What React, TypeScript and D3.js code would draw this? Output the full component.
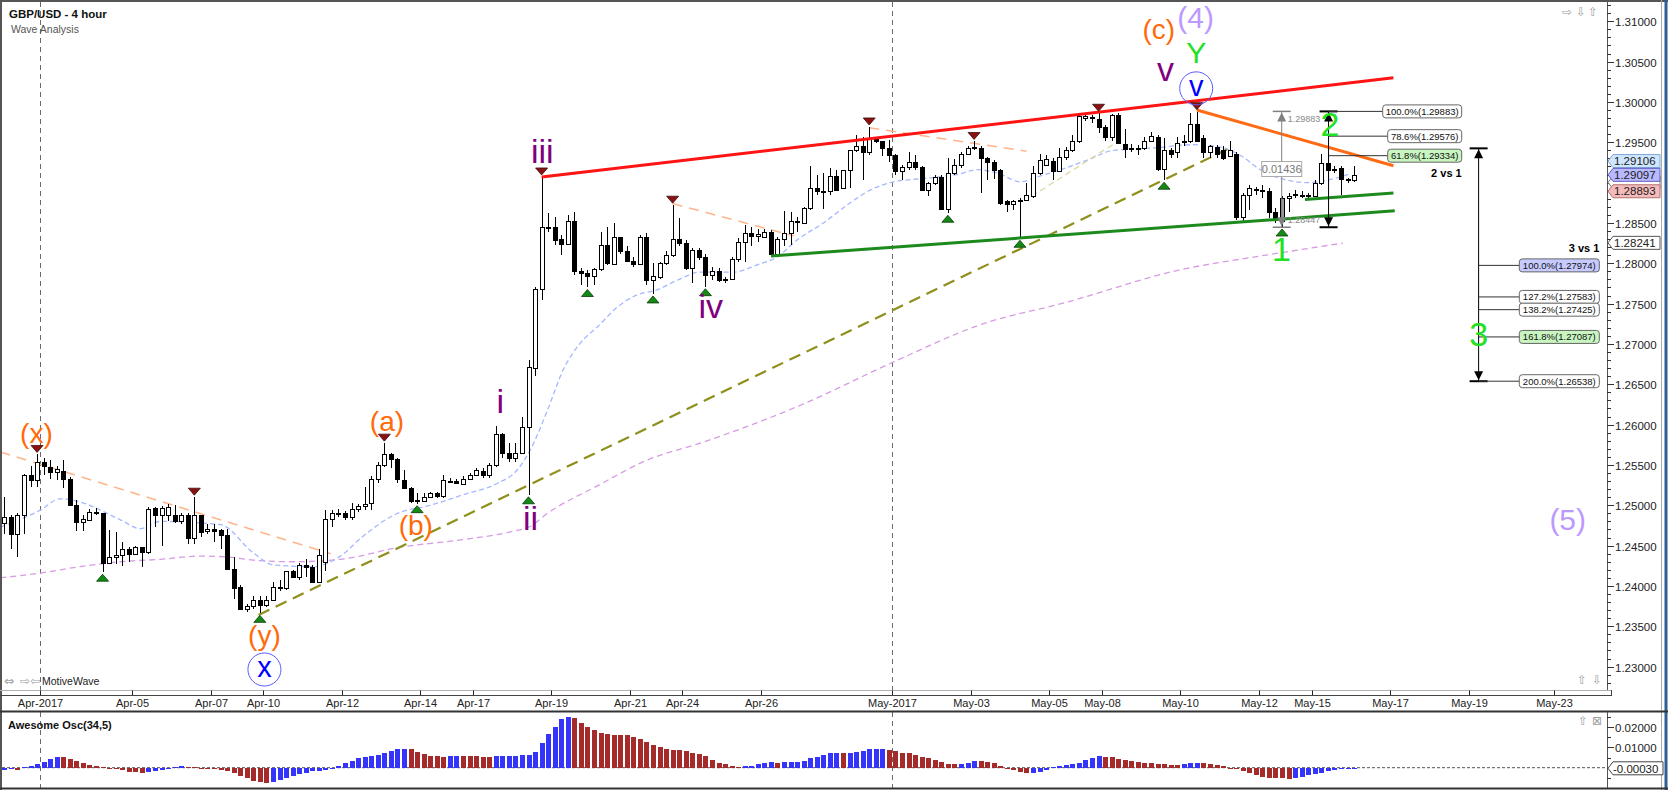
import React from "react";
import * as d3 from "d3";

// ---------------- DATA ----------------
const opens = [
  1.2478, 1.2486, 1.2465, 1.2488, 1.2537, 1.2531, 1.2554, 1.2548, 1.2541, 1.2543,
  1.2532, 1.2500, 1.2479, 1.2482, 1.2492, 1.2490, 1.2428, 1.2436, 1.2438, 1.2446,
  1.2440, 1.2448, 1.2442, 1.2497, 1.2488, 1.2488, 1.2488, 1.2481, 1.2488, 1.2459,
  1.2488, 1.2468, 1.2470, 1.2469, 1.2463, 1.2421, 1.2399, 1.2372, 1.2375, 1.2383,
  1.2376, 1.2383, 1.2399, 1.2397, 1.2419, 1.2411, 1.2426, 1.2424, 1.2405, 1.2430,
  1.2483, 1.2491, 1.2491, 1.2486, 1.2496, 1.2499, 1.2503, 1.2532, 1.2550, 1.2564,
  1.2557, 1.2531, 1.2522, 1.2506, 1.2505, 1.2510, 1.2515, 1.2511, 1.2529, 1.2530,
  1.2526, 1.2532, 1.2538, 1.2543, 1.2538, 1.2550, 1.2588, 1.2565, 1.2558, 1.2565,
  1.2597, 1.2670, 1.2768, 1.2844, 1.2845, 1.2830, 1.2824, 1.2853, 1.2790, 1.2788,
  1.2784, 1.2793, 1.2823, 1.2799, 1.2832, 1.2815, 1.2803, 1.2799, 1.2833, 1.2779,
  1.2783, 1.2800, 1.2810, 1.2830, 1.2825, 1.2794, 1.2817, 1.2808, 1.2786, 1.2791,
  1.2779, 1.2780, 1.2805, 1.2826, 1.2838, 1.2834, 1.2833, 1.2839, 1.2812, 1.2830,
  1.2838, 1.2851, 1.2850, 1.2868, 1.2893, 1.2889, 1.2889, 1.2908, 1.2893, 1.2916,
  1.2940, 1.2945, 1.2938, 1.2954, 1.2951, 1.2943, 1.2934, 1.2915, 1.2919, 1.2925,
  1.2919, 1.2891, 1.2899, 1.2907, 1.2867, 1.2912, 1.2922, 1.2936, 1.2943, 1.2943,
  1.2931, 1.2926, 1.2916, 1.2877, 1.2874, 1.2877, 1.2878, 1.2884, 1.2912, 1.2922,
  1.2927, 1.2915, 1.2932, 1.2941, 1.2951, 1.2980, 1.2981, 1.2979, 1.2969, 1.2957,
  1.2984, 1.2948, 1.2943, 1.2942, 1.2943, 1.2952, 1.2957, 1.2917, 1.2940, 1.2938,
  1.2950, 1.2951, 1.2973, 1.2955, 1.2938, 1.2944, 1.2941, 1.2933, 1.2936, 1.2858,
  1.2885, 1.2892, 1.2891, 1.2889, 1.2864, 1.2852, 1.2881, 1.2885, 1.2885, 1.2884,
  1.2884, 1.2900, 1.2924, 1.2916, 1.2918, 1.2903, 1.2903,
];
const highs = [
  1.2510, 1.2488, 1.2490, 1.2539, 1.2549, 1.2563, 1.2558, 1.2556, 1.2549, 1.2556,
  1.2535, 1.2506, 1.2488, 1.2496, 1.2497, 1.2491, 1.2469, 1.2467, 1.2454, 1.2448,
  1.2450, 1.2448, 1.2498, 1.2498, 1.2499, 1.2501, 1.2500, 1.2490, 1.2490, 1.2510,
  1.2488, 1.2477, 1.2477, 1.2471, 1.2471, 1.2436, 1.2401, 1.2377, 1.2388, 1.2388,
  1.2387, 1.2405, 1.2407, 1.2419, 1.2420, 1.2428, 1.2434, 1.2426, 1.2446, 1.2494,
  1.2494, 1.2496, 1.2493, 1.2503, 1.2502, 1.2523, 1.2536, 1.2554, 1.2577, 1.2565,
  1.2558, 1.2544, 1.2523, 1.2515, 1.2515, 1.2517, 1.2517, 1.2538, 1.2534, 1.2532,
  1.2536, 1.2540, 1.2546, 1.2546, 1.2552, 1.2598, 1.2589, 1.2577, 1.2577, 1.2610,
  1.2680, 1.2771, 1.2907, 1.2862, 1.2858, 1.2835, 1.2860, 1.2864, 1.2794, 1.2792,
  1.2794, 1.2839, 1.2845, 1.2850, 1.2833, 1.2821, 1.2808, 1.2835, 1.2837, 1.2800,
  1.2802, 1.2815, 1.2872, 1.2856, 1.2829, 1.2819, 1.2819, 1.2812, 1.2796, 1.2794,
  1.2783, 1.2808, 1.2831, 1.2847, 1.2845, 1.2843, 1.2842, 1.2841, 1.2832, 1.2865,
  1.2863, 1.2858, 1.2870, 1.2921, 1.2909, 1.2912, 1.2918, 1.2916, 1.2916, 1.2941,
  1.2959, 1.2957, 1.2969, 1.2955, 1.2952, 1.2953, 1.2936, 1.2922, 1.2938, 1.2934,
  1.2920, 1.2901, 1.2909, 1.2909, 1.2930, 1.2929, 1.2938, 1.2945, 1.2951, 1.2945,
  1.2932, 1.2928, 1.2917, 1.2879, 1.2879, 1.2881, 1.2899, 1.2920, 1.2936, 1.2934,
  1.2930, 1.2943, 1.2944, 1.2959, 1.2986, 1.2986, 1.2984, 1.2986, 1.2971, 1.2985,
  1.2986, 1.2967, 1.2948, 1.2947, 1.2957, 1.2963, 1.2959, 1.2955, 1.2943, 1.2957,
  1.2959, 1.2986, 1.2988, 1.2959, 1.2947, 1.2947, 1.2945, 1.2951, 1.2938, 1.2887,
  1.2897, 1.2895, 1.2897, 1.2893, 1.2868, 1.2883, 1.2887, 1.2891, 1.2889, 1.2887,
  1.2903, 1.2936, 1.2936, 1.2920, 1.2920, 1.2906, 1.2920,
];
const lows = [
  1.2465, 1.2446, 1.2436, 1.2465, 1.2523, 1.2523, 1.2538, 1.2532, 1.2531, 1.2522,
  1.2499, 1.2468, 1.2468, 1.2481, 1.2488, 1.2417, 1.2427, 1.2427, 1.2425, 1.2430,
  1.2440, 1.2424, 1.2439, 1.2473, 1.2450, 1.2481, 1.2478, 1.2477, 1.2452, 1.2452,
  1.2461, 1.2465, 1.2455, 1.2446, 1.2421, 1.2384, 1.2372, 1.2368, 1.2372, 1.2366,
  1.2374, 1.2382, 1.2394, 1.2395, 1.2411, 1.2407, 1.2411, 1.2404, 1.2404, 1.2419,
  1.2473, 1.2486, 1.2482, 1.2482, 1.2492, 1.2494, 1.2494, 1.2527, 1.2548, 1.2546,
  1.2527, 1.2521, 1.2503, 1.2502, 1.2504, 1.2509, 1.2509, 1.2509, 1.2527, 1.2526,
  1.2525, 1.2531, 1.2536, 1.2534, 1.2534, 1.2548, 1.2558, 1.2554, 1.2554, 1.2563,
  1.2513, 1.2660, 1.2754, 1.2839, 1.2823, 1.2810, 1.2823, 1.2786, 1.2773, 1.2770,
  1.2773, 1.2790, 1.2798, 1.2798, 1.2812, 1.2802, 1.2796, 1.2798, 1.2773, 1.2762,
  1.2781, 1.2798, 1.2808, 1.2821, 1.2792, 1.2775, 1.2804, 1.2771, 1.2779, 1.2777,
  1.2776, 1.2779, 1.2802, 1.2802, 1.2821, 1.2827, 1.2831, 1.2810, 1.2808, 1.2821,
  1.2823, 1.2839, 1.2850, 1.2866, 1.2885, 1.2867, 1.2885, 1.2889, 1.2892, 1.2893,
  1.2938, 1.2903, 1.2934, 1.2949, 1.2933, 1.2926, 1.2909, 1.2903, 1.2916, 1.2916,
  1.2889, 1.2883, 1.2897, 1.2866, 1.2862, 1.2909, 1.2918, 1.2934, 1.2941, 1.2887,
  1.2903, 1.2904, 1.2872, 1.2864, 1.2866, 1.2831, 1.2877, 1.2881, 1.2910, 1.2920,
  1.2903, 1.2914, 1.2928, 1.2938, 1.2949, 1.2976, 1.2974, 1.2961, 1.2952, 1.2951,
  1.2948, 1.2931, 1.2938, 1.2934, 1.2941, 1.2951, 1.2914, 1.2903, 1.2931, 1.2931,
  1.2945, 1.2949, 1.2950, 1.2930, 1.2931, 1.2930, 1.2928, 1.2932, 1.2854, 1.2852,
  1.2866, 1.2885, 1.2881, 1.2856, 1.2850, 1.2845, 1.2864, 1.2881, 1.2881, 1.2879,
  1.2883, 1.2897, 1.2901, 1.2912, 1.2885, 1.2900, 1.2901,
];
const closes = [
  1.2486, 1.2465, 1.2488, 1.2537, 1.2531, 1.2554, 1.2549, 1.2541, 1.2545, 1.2532,
  1.2500, 1.2479, 1.2483, 1.2492, 1.2490, 1.2428, 1.2436, 1.2438, 1.2446, 1.2440,
  1.2448, 1.2442, 1.2496, 1.2488, 1.2497, 1.2498, 1.2481, 1.2488, 1.2459, 1.2488,
  1.2467, 1.2471, 1.2468, 1.2463, 1.2421, 1.2397, 1.2372, 1.2375, 1.2383, 1.2376,
  1.2383, 1.2399, 1.2397, 1.2419, 1.2411, 1.2426, 1.2424, 1.2405, 1.2438, 1.2483,
  1.2490, 1.2489, 1.2486, 1.2496, 1.2499, 1.2502, 1.2532, 1.2550, 1.2564, 1.2557,
  1.2532, 1.2522, 1.2505, 1.2507, 1.2510, 1.2515, 1.2511, 1.2531, 1.2530, 1.2527,
  1.2532, 1.2538, 1.2544, 1.2538, 1.2550, 1.2588, 1.2565, 1.2558, 1.2565, 1.2597,
  1.2671, 1.2768, 1.2845, 1.2845, 1.2829, 1.2824, 1.2853, 1.2790, 1.2788, 1.2784,
  1.2793, 1.2823, 1.2800, 1.2832, 1.2815, 1.2803, 1.2799, 1.2833, 1.2779, 1.2784,
  1.2800, 1.2810, 1.2830, 1.2825, 1.2794, 1.2816, 1.2808, 1.2786, 1.2791, 1.2779,
  1.2781, 1.2805, 1.2826, 1.2837, 1.2834, 1.2836, 1.2839, 1.2812, 1.2830, 1.2838,
  1.2852, 1.2852, 1.2868, 1.2893, 1.2889, 1.2889, 1.2908, 1.2891, 1.2916, 1.2940,
  1.2945, 1.2938, 1.2954, 1.2951, 1.2943, 1.2934, 1.2915, 1.2919, 1.2925, 1.2919,
  1.2891, 1.2899, 1.2907, 1.2867, 1.2912, 1.2922, 1.2936, 1.2943, 1.2944, 1.2930,
  1.2926, 1.2916, 1.2875, 1.2874, 1.2877, 1.2878, 1.2885, 1.2912, 1.2928, 1.2929,
  1.2915, 1.2932, 1.2941, 1.2951, 1.2982, 1.2983, 1.2981, 1.2969, 1.2957, 1.2984,
  1.2949, 1.2942, 1.2943, 1.2943, 1.2952, 1.2958, 1.2917, 1.2940, 1.2936, 1.2949,
  1.2951, 1.2973, 1.2951, 1.2938, 1.2945, 1.2936, 1.2930, 1.2941, 1.2858, 1.2885,
  1.2893, 1.2892, 1.2891, 1.2864, 1.2856, 1.2881, 1.2884, 1.2886, 1.2885, 1.2885,
  1.2900, 1.2924, 1.2916, 1.2917, 1.2905, 1.2904, 1.2910,
];

// Awesome Oscillator (34,5) per bar
const aoValues = [
  -0.0013, -0.0008, -0.0010, 0.0003, 0.0010, 0.0018, 0.0030, 0.0044, 0.0054, 0.0053,
  0.0044, 0.0034, 0.0021, 0.0015, 0.0010, 0.0002, -0.0005, -0.0008, -0.0011, -0.0020,
  -0.0023, -0.0025, -0.0021, -0.0015, -0.0010, -0.0005, 0.0005, 0.0008, 0.0005, 0.0002,
  0.0000, -0.0005, -0.0007, -0.0010, -0.0016, -0.0028, -0.0041, -0.0053, -0.0064, -0.0072,
  -0.0077, -0.0072, -0.0061, -0.0049, -0.0039, -0.0030, -0.0025, -0.0018, -0.0015, -0.0011,
  -0.0007, 0.0008, 0.0021, 0.0034, 0.0046, 0.0053, 0.0057, 0.0062, 0.0071, 0.0084,
  0.0090, 0.0094, 0.0093, 0.0076, 0.0066, 0.0057, 0.0056, 0.0055, 0.0057, 0.0059,
  0.0058, 0.0057, 0.0056, 0.0055, 0.0051, 0.0056, 0.0057, 0.0058, 0.0059, 0.0061,
  0.0062, 0.0079, 0.0120, 0.0166, 0.0202, 0.0238, 0.0251, 0.0243, 0.0222, 0.0202,
  0.0186, 0.0169, 0.0166, 0.0161, 0.0160, 0.0159, 0.0149, 0.0140, 0.0128, 0.0110,
  0.0100, 0.0090, 0.0087, 0.0086, 0.0082, 0.0074, 0.0067, 0.0057, 0.0038, 0.0025,
  0.0016, 0.0010, 0.0005, 0.0008, 0.0010, 0.0016, 0.0021, 0.0026, 0.0025, 0.0026,
  0.0027, 0.0028, 0.0033, 0.0046, 0.0051, 0.0061, 0.0071, 0.0074, 0.0073, 0.0074,
  0.0077, 0.0084, 0.0090, 0.0092, 0.0093, 0.0087, 0.0082, 0.0074, 0.0071, 0.0062,
  0.0054, 0.0046, 0.0038, 0.0030, 0.0018, 0.0017, 0.0020, 0.0025, 0.0033, 0.0032,
  0.0030, 0.0025, 0.0010, 0.0000, -0.0011, -0.0020, -0.0028, -0.0027, -0.0020, -0.0011,
  0.0003, 0.0008, 0.0011, 0.0016, 0.0025, 0.0038, 0.0046, 0.0056, 0.0055, 0.0051,
  0.0043, 0.0038, 0.0033, 0.0026, 0.0025, 0.0021, 0.0018, 0.0016, 0.0015, 0.0014,
  0.0018, 0.0021, 0.0022, 0.0021, 0.0018, 0.0013, 0.0008, 0.0000, -0.0007, -0.0016,
  -0.0028, -0.0036, -0.0044, -0.0049, -0.0052, -0.0053, -0.0054, -0.0052, -0.0046, -0.0038,
  -0.0032, -0.0026, -0.0018, -0.0011, -0.0006, -0.0004, -0.0003,
];

// moving averages (bar index, price)
const blueMaBar = [-0.6, 5.5, 8.5, 11.6, 17.7, 20.8, 23.8, 33.0, 38.0, 41.1, 47.2, 51.3, 54.8, 60.0, 65.0, 70.0, 75.2, 78.3, 80.3, 82.9, 85.3, 87.9, 90.5, 93.6, 96.6, 99.6, 102.7, 106.2, 111.3, 114.9, 118.0, 121.0, 125.0, 129.1, 132.2, 135.2, 141.3, 145.4, 148.5, 151.5, 155.1, 157.6, 161.2, 165.3, 169.3, 175.4, 181.5, 185.6, 188.6, 191.7, 195.8, 198.9, 201.9, 205.4];
const blueMaPrice = [1.2473, 1.2494, 1.2508, 1.2504, 1.2482, 1.2471, 1.2480, 1.2476, 1.2441, 1.2426, 1.2424, 1.2437, 1.2462, 1.2490, 1.2500, 1.2513, 1.2527, 1.2544, 1.2569, 1.2618, 1.2668, 1.2701, 1.2721, 1.2746, 1.2761, 1.2767, 1.2779, 1.2789, 1.2789, 1.2798, 1.2808, 1.2829, 1.2850, 1.2875, 1.2891, 1.2900, 1.2906, 1.2910, 1.2916, 1.2912, 1.2901, 1.2907, 1.2916, 1.2928, 1.2940, 1.2943, 1.2947, 1.2944, 1.2934, 1.2916, 1.2903, 1.2900, 1.2903, 1.2911];
const purpleMaBar = [-0.6, 5.5, 11.6, 17.7, 23.8, 29.9, 34.0, 38.0, 44.1, 51.3, 60.4, 69.6, 77.2, 80.3, 82.9, 90.5, 98.1, 106.2, 121.5, 135.8, 149.0, 161.8, 179.5, 191.7, 204.3];
const purpleMaPrice = [1.2410, 1.2416, 1.2424, 1.2430, 1.2433, 1.2437, 1.2436, 1.2432, 1.2430, 1.2433, 1.2448, 1.2457, 1.2467, 1.2474, 1.2490, 1.2524, 1.2556, 1.2577, 1.2624, 1.2678, 1.2724, 1.2751, 1.2792, 1.2809, 1.2825];

// trend lines (bar index, price)
const resistanceLine = [[82, 1.2907], [212, 1.303]];
const wave2Line = [[182, 1.299], [212, 1.2921]];
const supportLine = [[117, 1.2809], [212.2, 1.2865]];
const channelLine = [[198.5, 1.2879], [212, 1.2887]];
const oliveLine = [[38.8, 1.2364], [186.6, 1.2941]];
const khakiLine = [[156.8, 1.2883], [170.3, 1.2953]];
const peachLines = [
  [[-0.6, 1.2566], [49.8, 1.244]],
  [[102, 1.2874], [120.5, 1.2834]],
  [[132, 1.2968], [156, 1.2939]],
];

// swing markers
const swingHighBars = [5, 29, 58, 82, 102, 132, 148, 167, 182];
const swingLowBars = [15, 39, 63, 80, 89, 99, 107, 144, 155, 177, 195];

// wave labels
const waveText = ["(x)", "(y)", "(a)", "(b)", "i", "ii", "iii", "iv", "v", "(c)", "(4)", "Y", "1", "2", "3", "(5)"];
const waveBar = [4.9, 39.7, 58.4, 62.8, 75.7, 80.3, 82.1, 107.8, 177.2, 176.2, 181.8, 181.9, 194.9, 202.3, 225, 238.6];
const wavePrice = [1.25859, 1.23354, 1.26007, 1.24724, 1.26299, 1.24848, 1.29392, 1.2747, 1.30368, 1.3087, 1.31016, 1.30613, 1.28177, 1.29727, 1.27123, 1.24796];
const waveKind = ["o", "o", "o", "o", "p", "p", "p", "p", "p", "o", "l", "g", "g", "g", "g", "l"];
const circleText = ["x", "v"];
const circleBar = [39.7, 181.9];
const circlePrice = [1.22964, 1.30169];

// axes
const dateTickLabels = ["Apr-2017", "Apr-05", "Apr-07", "Apr-10", "Apr-12", "Apr-14", "Apr-17", "Apr-19", "Apr-21", "Apr-24", "Apr-26", "May-2017", "May-03", "May-05", "May-08", "May-10", "May-12", "May-15", "May-17", "May-19", "May-23"];
const dateTickBar = [5.5, 19.5, 31.5, 39.5, 51.5, 63.5, 71.5, 83.5, 95.5, 103.5, 115.5, 135.5, 147.5, 159.5, 167.5, 179.5, 191.5, 199.5, 211.5, 223.5, 236.5];
const monthStartBar = [5.5, 135.5];
const priceTickLabels = ["1.31000", "1.30500", "1.30000", "1.29500", "1.29000", "1.28500", "1.28000", "1.27500", "1.27000", "1.26500", "1.26000", "1.25500", "1.25000", "1.24500", "1.24000", "1.23500", "1.23000"];
const aoTickLabels = ["0.02000", "0.01000"];

// price axis callouts (last values of the plotted series)
const calloutValues = [1.29106, 1.28966, 1.28893, 1.29097, 1.28241];
const aoCallout = -0.0003;

// fibonacci tools
const measureFrom = 1.28447;
const measureTo = 1.29883;
const measureText = "0.01436";
const retraceLabels = ["100.0%", "78.6%", "61.8%"];
const retraceValues = [1.29883, 1.29576, 1.29334];
const extTop = 1.29425;
const extLabels = ["100.0%", "127.2%", "138.2%", "161.8%", "200.0%"];
const extValues = [1.27974, 1.27583, 1.27425, 1.27087, 1.26538];

// ---------------- CHART ----------------
const FONT = "'Liberation Sans', Arial, Helvetica, sans-serif";
const W = 1668;
const H = 790;
const PLOT_L = 2;
const PLOT_R = 1607;
const PLOT_T = 2;
const PLOT_B = 690;
const AO_T = 712;
const AO_B = 788;

const kindStyle: Record<string, { fill: string; size: number }> = {
  o: { fill: "#ff6a0a", size: 28 },
  p: { fill: "#800080", size: 34 },
  l: { fill: "#bb99ff", size: 30 },
  g: { fill: "#22e022", size: 34 },
};

export default function App() {
  const x = d3.scaleLinear().domain([0, 206]).range([4.3, 4.3 + 206 * 6.5525]);
  const y = d3.scaleLinear().domain([1.31, 1.23]).range([21.3, 666.6]);
  const ao = d3.scaleLinear().domain([0, 0.02]).range([767.7, 727.1]);

  const line = d3
    .line<number[]>()
    .x((d) => x(d[0]))
    .y((d) => y(d[1]));
  const curve = d3
    .line<number[]>()
    .x((d) => x(d[0]))
    .y((d) => y(d[1]))
    .curve(d3.curveMonotoneX);

  const bluePts = blueMaBar.map((b, i) => [b, blueMaPrice[i]]);
  const purplePts = purpleMaBar.map((b, i) => [b, purpleMaPrice[i]]);

  const minorPrice = d3.range(1.225, 1.3135, 0.001);
  const px = (v: number) => Math.round(v) + 0.5;

  const gx = x(194.95);
  const fx = x(202.1);
  const ex = x(225);

  const arrowUp = (cx: number, tipY: number) =>
    `M${cx},${tipY} L${cx - 4.5},${tipY + 9} L${cx + 4.5},${tipY + 9} Z`;
  const arrowDown = (cx: number, tipY: number) =>
    `M${cx},${tipY} L${cx - 4.5},${tipY - 9} L${cx + 4.5},${tipY - 9} Z`;

  const callout = (yc: number, x0: number, x1: number) =>
    `M${x0},${yc} L${x0 + 5},${yc - 6.5} L${x1},${yc - 6.5} L${x1},${yc + 6.5} L${x0 + 5},${yc + 6.5} Z`;

  const calloutStyle = [
    { fill: "#cfe6ff", stroke: "#7fa6d6", shift: -13, label: true },
    { fill: "#ffffff", stroke: "#777", shift: -3, label: false },
    { fill: "#f5baba", stroke: "#b07070", shift: 0, label: true },
    { fill: "#b9b9ff", stroke: "#5a5ac0", shift: 0, label: true },
    { fill: "#ffffff", stroke: "#555", shift: -1, label: true },
  ];
  const calloutYs = calloutValues.map((v, i) => y(v) + calloutStyle[i].shift);

  return (
    <svg
      width={W}
      height={H}
      viewBox={`0 0 ${W} ${H}`}
      style={{ position: "absolute", left: 0, top: 0, background: "#fff" }}
      fontFamily={FONT}
    >
      <defs>
        <clipPath id="plotClip">
          <rect x={PLOT_L} y={PLOT_T} width={PLOT_R - PLOT_L} height={PLOT_B - PLOT_T} />
        </clipPath>
        <clipPath id="aoClip">
          <rect x={PLOT_L} y={AO_T} width={PLOT_R - PLOT_L} height={AO_B - AO_T} />
        </clipPath>
      </defs>
      <rect x={0} y={0} width={W} height={H} fill="#fff" />

      {/* month separators */}
      {monthStartBar.map((b, i) => (
        <g key={"ms" + i}>
          <line x1={px(x(b))} x2={px(x(b))} y1={PLOT_T} y2={PLOT_B} stroke="#6a6a6a" strokeDasharray="5,4" />
          <line x1={px(x(b))} x2={px(x(b))} y1={AO_T} y2={AO_B} stroke="#6a6a6a" strokeDasharray="5,4" />
        </g>
      ))}

      <g clipPath="url(#plotClip)">
        {/* moving averages */}
        <path d={curve(purplePts) || ""} fill="none" stroke="#d79be3" strokeWidth={1.3} strokeDasharray="6,4" />
        <path d={curve(bluePts) || ""} fill="none" stroke="#a6b8ff" strokeWidth={1.3} strokeDasharray="5,3" />

        {/* peach dashed lines */}
        {peachLines.map((l, i) => (
          <path key={"pl" + i} d={line(l) || ""} fill="none" stroke="#ffb48c" strokeWidth={1.5} strokeDasharray="10,7" />
        ))}
        <path d={line(khakiLine) || ""} fill="none" stroke="#d8d49a" strokeWidth={1.2} strokeDasharray="6,4" />
        <path d={line(oliveLine) || ""} fill="none" stroke="#8f8f1c" strokeWidth={2.2} strokeDasharray="12,7" />

        {/* candles */}
        <g shapeRendering="crispEdges">
          {opens.map((o, i) => {
            const c = closes[i];
            const cx = px(x(i));
            const top = Math.round(y(Math.max(o, c)));
            const bot = Math.round(y(Math.min(o, c)));
            const bull = c >= o;
            const fill = i === 195 ? "#9a9a9a" : bull ? "#fff" : "#000";
            return (
              <g key={"c" + i}>
                <line x1={cx} x2={cx} y1={y(highs[i])} y2={y(lows[i])} stroke="#000" strokeWidth={1} />
                <rect x={cx - 2} y={top + 0.5} width={4} height={Math.max(1, bot - top)} fill={fill} stroke="#000" strokeWidth={1} />
              </g>
            );
          })}
        </g>

        {/* trend lines */}
        <path d={line(resistanceLine) || ""} stroke="#ff1414" strokeWidth={3} fill="none" />
        <path d={line(wave2Line) || ""} stroke="#ff6a14" strokeWidth={3} fill="none" />
        <path d={line(supportLine) || ""} stroke="#1d8a1d" strokeWidth={3} fill="none" />
        <path d={line(channelLine) || ""} stroke="#1d8a1d" strokeWidth={3} fill="none" />

        {/* swing markers */}
        {swingHighBars.map((b) => {
          const cx = x(b);
          const t = y(highs[b]) - 2;
          return (
            <path key={"sh" + b} d={`M${cx},${t} L${cx - 6},${t - 7} L${cx + 6},${t - 7} Z`} fill="#8b1010" stroke="#3a1010" strokeWidth={0.8} />
          );
        })}
        {swingLowBars.map((b) => {
          const cx = x(b);
          const t = y(lows[b]) + 2;
          return (
            <path key={"sl" + b} d={`M${cx},${t} L${cx - 6},${t + 7} L${cx + 6},${t + 7} Z`} fill="#138a13" stroke="#0a3a0a" strokeWidth={0.8} />
          );
        })}

        {/* measure tool (gray) */}
        <g>
          <line x1={gx} x2={gx} y1={y(measureTo)} y2={y(measureFrom)} stroke="#808080" strokeWidth={1} />
          <line x1={gx - 9} x2={gx + 9} y1={y(measureTo)} y2={y(measureTo)} stroke="#808080" strokeWidth={1.5} />
          <line x1={gx - 9} x2={gx + 9} y1={y(measureFrom)} y2={y(measureFrom)} stroke="#808080" strokeWidth={1.5} />
          <path d={arrowUp(gx, y(measureTo) + 1)} fill="#808080" />
          <path d={arrowDown(gx, y(measureFrom) - 1)} fill="#808080" />
          <text x={gx + 6} y={y(measureTo) + 11} fontSize={9} fill="#8a8a8a">{measureTo.toFixed(5)}</text>
          <text x={gx + 6} y={y(measureFrom) - 4} fontSize={9} fill="#8a8a8a">{measureFrom.toFixed(5)}</text>
          <rect x={gx - 20} y={161.5} width={40} height={15} fill="#fff" stroke="#aaa" />
          <text x={gx} y={173} fontSize={11} fill="#777" textAnchor="middle">{measureText}</text>
        </g>

        {/* retracement tool "2 vs 1" */}
        <g>
          <line x1={fx} x2={fx} y1={y(measureTo)} y2={y(measureFrom)} stroke="#000" strokeWidth={1} />
          <line x1={fx - 9} x2={fx + 9} y1={y(measureTo)} y2={y(measureTo)} stroke="#000" strokeWidth={2} />
          <line x1={fx - 9} x2={fx + 9} y1={y(measureFrom)} y2={y(measureFrom)} stroke="#000" strokeWidth={2} />
          <path d={arrowUp(fx, y(measureTo) + 1)} fill="#000" />
          <path d={arrowDown(fx, y(measureFrom) - 1)} fill="#000" />
          {retraceValues.map((v, i) => {
            const left = i === 0 ? 1382.7 : 1387.7;
            const yy = y(v);
            const fill = i === 2 ? "#c8f5c0" : "#fff";
            return (
              <g key={"rt" + i}>
                <line x1={fx} x2={left} y1={yy} y2={yy} stroke="#333" strokeWidth={1} />
                <rect x={left} y={yy - 6.5} width={1461.7 - left} height={13} rx={3} fill={fill} stroke="#666" />
                <text x={(left + 1461.7) / 2} y={yy + 3.5} fontSize={9.5} textAnchor="middle" fill="#111">
                  {`${retraceLabels[i]}(${v.toFixed(5)})`}
                </text>
              </g>
            );
          })}
          <text x={1461.7} y={176.5} fontSize={11} fontWeight="bold" textAnchor="end" fill="#000">2 vs 1</text>
        </g>

        {/* extension tool "3 vs 1" */}
        <g>
          <line x1={ex} x2={ex} y1={y(extTop)} y2={y(extValues[4])} stroke="#000" strokeWidth={1} />
          <line x1={ex - 9} x2={ex + 9} y1={y(extTop)} y2={y(extTop)} stroke="#000" strokeWidth={2} />
          <line x1={ex - 9} x2={ex + 9} y1={y(extValues[4])} y2={y(extValues[4])} stroke="#000" strokeWidth={2} />
          <path d={arrowUp(ex, y(extTop) + 1)} fill="#000" />
          <path d={arrowDown(ex, y(extValues[4]) - 1)} fill="#000" />
          {extValues.map((v, i) => {
            const yy = y(v);
            const fill = i === 0 ? "#c6caff" : i === 3 ? "#c8f5c0" : "#fff";
            return (
              <g key={"ex" + i}>
                <line x1={ex} x2={1519.3} y1={yy} y2={yy} stroke="#333" strokeWidth={1} />
                <rect x={1519.3} y={yy - 6.5} width={80} height={13} rx={3} fill={fill} stroke="#666" />
                <text x={1559.3} y={yy + 3.5} fontSize={9.5} textAnchor="middle" fill="#111">
                  {`${extLabels[i]}(${v.toFixed(5)})`}
                </text>
              </g>
            );
          })}
          <text x={1599.3} y={252} fontSize={11} fontWeight="bold" textAnchor="end" fill="#000">3 vs 1</text>
        </g>

        {/* wave labels */}
        {waveText.map((t, i) => {
          const st = kindStyle[waveKind[i]];
          const size = t === "Y" ? 30 : st.size;
          const off = t.startsWith("(") || t === "v" ? 0.26 : 0.36;
          return (
            <text key={"w" + i} x={x(waveBar[i])} y={y(wavePrice[i]) + off * size} fontSize={size} fill={st.fill} textAnchor="middle">
              {t}
            </text>
          );
        })}
        {circleText.map((t, i) => (
          <g key={"ci" + i}>
            <circle cx={x(circleBar[i])} cy={y(circlePrice[i])} r={16.5} fill="none" stroke="#5a5aff" strokeWidth={1} />
            <text x={x(circleBar[i])} y={y(circlePrice[i]) + 7.5} fontSize={29} fill="#0000ff" textAnchor="middle">{t}</text>
          </g>
        ))}
      </g>

      {/* header text */}
      <text x={9} y={17.5} fontSize={11.5} fontWeight="bold" fill="#111">GBP/USD - 4 hour</text>
      <text x={11} y={33} fontSize={10.5} fill="#555">Wave Analysis</text>

      {/* icons */}
      <g fontFamily="'DejaVu Sans', sans-serif" fontSize={12} fill="#a0a0a0">
        <text x={1562} y={16}>⇨</text>
        <text x={1576} y={16}>⇩</text>
        <text x={1588} y={16}>⇧</text>
        <text x={1577} y={684}>⇧</text>
        <text x={1592} y={684}>⇩</text>
        <text x={1578} y={725}>⇧</text>
        <text x={1592} y={725}>⊠</text>
        <text x={4} y={685}>⇔</text>
        <text x={20} y={685}>⇨⇦</text>
      </g>
      <text x={42} y={685} fontSize={10.5} fill="#222">MotiveWave</text>

      {/* price axis */}
      <line x1={PLOT_R + 0.5} x2={PLOT_R + 0.5} y1={0} y2={PLOT_B} stroke="#555" />
      {minorPrice.map((v, i) => {
        const yy = Math.round(y(v)) + 0.5;
        if (yy < 4 || yy > PLOT_B - 2) return null;
        return <line key={"mt" + i} x1={PLOT_R} x2={PLOT_R + 4} y1={yy} y2={yy} stroke="#333" />;
      })}
      {priceTickLabels.map((t) => {
        const yy = Math.round(y(+t)) + 0.5;
        const covered = calloutYs.some((cy) => Math.abs(cy - yy) < 12);
        return (
          <g key={"pt" + t}>
            <line x1={PLOT_R} x2={PLOT_R + 7} y1={yy} y2={yy} stroke="#333" />
            {!covered && <text x={1615} y={yy + 4} fontSize={11.5} fill="#222">{t}</text>}
          </g>
        );
      })}
      {calloutValues.map((v, i) => {
        const st = calloutStyle[i];
        const yc = calloutYs[i];
        return (
          <g key={"co" + i}>
            <path d={callout(yc, PLOT_R + 1, 1660)} fill={st.fill} stroke={st.stroke} strokeWidth={1} />
            {st.label && <text x={1614} y={yc + 4.2} fontSize={11.5} fill="#222">{v.toFixed(5)}</text>}
          </g>
        );
      })}

      {/* frame */}
      <line x1={0} x2={W} y1={1} y2={1} stroke="#555" strokeWidth={2} />
      <line x1={1} x2={1} y1={0} y2={H} stroke="#555" strokeWidth={2} />
      <line x1={1661.5} x2={1661.5} y1={0} y2={H} stroke="#aaa" />
      <line x1={1666} x2={1666} y1={0} y2={H} stroke="#2f5f95" strokeWidth={3} />

      {/* date axis */}
      <line x1={0} x2={1611} y1={690.5} y2={690.5} stroke="#b0b0b0" />
      <line x1={0} x2={1611} y1={695.5} y2={695.5} stroke="#444" />
      <line x1={1611.5} x2={1611.5} y1={690} y2={696} stroke="#444" />
      {dateTickLabels.map((t, i) => {
        const xx = px(x(dateTickBar[i]));
        return (
          <g key={"dt" + i}>
            <line x1={xx} x2={xx} y1={690.5} y2={695} stroke="#222" />
            <text x={xx} y={706.5} fontSize={11} textAnchor="middle" fill="#222">{t}</text>
          </g>
        );
      })}
      <line x1={0} x2={W} y1={711.5} y2={711.5} stroke="#333" strokeWidth={2} />

      {/* AO panel */}
      <text x={8} y={729} fontSize={11} fontWeight="bold" fill="#111">Awesome Osc(34,5)</text>
      <line x1={PLOT_L} x2={PLOT_R} y1={ao(0)} y2={ao(0)} stroke="#555" strokeDasharray="3,2" />
      <g clipPath="url(#aoClip)" shapeRendering="crispEdges">
        {aoValues.map((v, i) => {
          const prev = i === 0 ? -1 : aoValues[i - 1];
          const up = v > prev;
          const y0 = ao(0);
          const y1 = ao(v);
          return (
            <rect
              key={"ao" + i}
              x={Math.round(x(i)) - 2}
              y={Math.min(y0, y1)}
              width={5}
              height={Math.max(1, Math.abs(y1 - y0))}
              fill={up ? "#3434fb" : "#a52a2a"}
            />
          );
        })}
      </g>
      <line x1={PLOT_R + 0.5} x2={PLOT_R + 0.5} y1={AO_T} y2={AO_B} stroke="#555" />
      {d3.range(-0.01, 0.0251, 0.005).map((v, i) => {
        const yy = Math.round(ao(v)) + 0.5;
        if (yy < AO_T + 2 || yy > AO_B) return null;
        return <line key={"am" + i} x1={PLOT_R} x2={PLOT_R + 4} y1={yy} y2={yy} stroke="#333" />;
      })}
      {aoTickLabels.map((t) => {
        const yy = Math.round(ao(+t)) + 0.5;
        return (
          <g key={"at" + t}>
            <line x1={PLOT_R} x2={PLOT_R + 7} y1={yy} y2={yy} stroke="#333" />
            <text x={1615} y={yy + 4} fontSize={11.5} fill="#222">{t}</text>
          </g>
        );
      })}
      <path d={callout(ao(aoCallout), PLOT_R + 1, 1663)} fill="#fff" stroke="#444" />
      <text x={1613} y={ao(aoCallout) + 4.2} fontSize={11.5} fill="#222">{aoCallout.toFixed(5)}</text>
      <line x1={0} x2={W} y1={788.5} y2={788.5} stroke="#333" strokeWidth={2} />
    </svg>
  );
}
